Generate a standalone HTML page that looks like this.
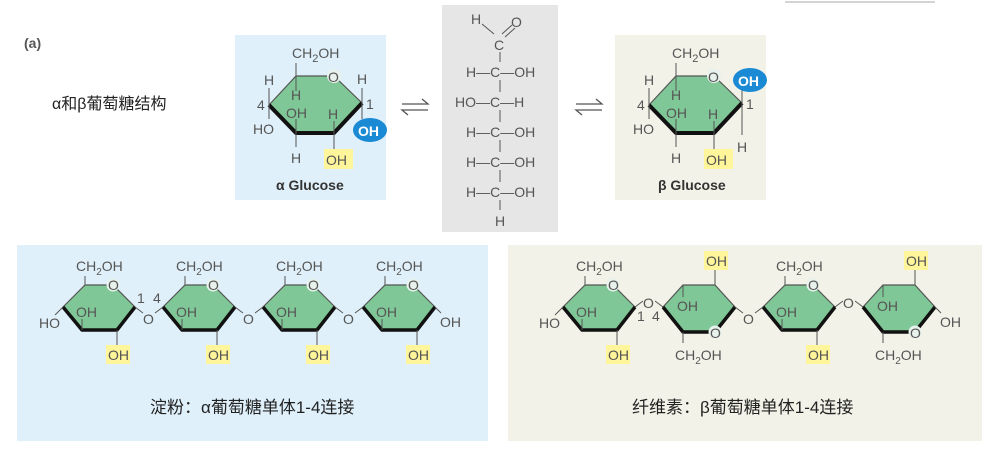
<!DOCTYPE html>
<html><head><meta charset="utf-8"><style>
body{margin:0;background:#fff;}
svg text{font-family:"Liberation Sans","Noto Sans CJK SC",sans-serif;fill:#555;font-size:14px;}
.cn{font-size:17px;fill:#222;}
</style></head><body>
<svg width="1000" height="447" viewBox="0 0 1000 447" xmlns="http://www.w3.org/2000/svg">
<defs>
<g id="sr">
<polygon points="0,0 22,-22 50,-22 72,0 54,23 19,23" fill="#7fc796" stroke="#555" stroke-width="1.2"/>
<polyline points="0,0 19,23 54,23 72,0" fill="none" stroke="#111" stroke-width="3.5" stroke-linejoin="round"/>
<circle cx="50" cy="-22" r="6.5" fill="#e8f2ec"/>
<text x="45" y="-17" font-size="15">O</text>
<line x1="22" y1="-22" x2="22" y2="-31" stroke="#555"/>
<text x="13" y="-36">CH<tspan font-size="10" dy="4">2</tspan><tspan dy="-4">OH</tspan></text>
<line x1="19" y1="23" x2="19" y2="12" stroke="#555"/>
<text x="13" y="10">OH</text>
<line x1="54" y1="23" x2="54" y2="38" stroke="#555"/>
<rect x="43" y="38" width="24" height="19" fill="#fff59a"/>
<text x="45" y="53">OH</text>
</g>
<g id="fr">
<polygon points="0,0 20,-22 52,-22 72,0 52,25 20,25" fill="#7fc796" stroke="#555" stroke-width="1.2"/>
<polyline points="0,0 20,25 52,25 72,0" fill="none" stroke="#111" stroke-width="3.5" stroke-linejoin="round"/>
<circle cx="52" cy="25" r="6.5" fill="#e8f2ec"/>
<text x="47" y="31" font-size="15">O</text>
<line x1="52" y1="-22" x2="52" y2="-37" stroke="#555"/>
<rect x="41" y="-56" width="24" height="19" fill="#fff59a"/>
<text x="43" y="-41">OH</text>
<line x1="20" y1="-22" x2="20" y2="-10" stroke="#555"/>
<text x="14" y="4">OH</text>
<line x1="20" y1="25" x2="20" y2="36" stroke="#555"/>
<text x="12" y="53">CH<tspan font-size="10" dy="4">2</tspan><tspan dy="-4">OH</tspan></text>
</g>
<g id="ho">
<line x1="0" y1="0" x2="-8" y2="8" stroke="#555"/>
<text x="-24" y="21">HO</text>
</g>
<g id="big">
<polygon points="0,0 27,-29 65,-29 93,-2 65,28 27,28" fill="#7fc796" stroke="#555" stroke-width="1.2"/>
<polyline points="0,0 27,28 65,28 93,-2" fill="none" stroke="#111" stroke-width="4" stroke-linejoin="round"/>
<circle cx="65" cy="-29" r="7" fill="#e8f2ec"/>
<text x="59" y="-23" font-size="16">O</text>
<line x1="27" y1="-29" x2="27" y2="-42" stroke="#555"/>
<text x="23" y="-47" font-size="15">CH<tspan font-size="11" dy="4">2</tspan><tspan dy="-4">OH</tspan></text>
<line x1="0" y1="-17" x2="0" y2="14" stroke="#555"/>
<text x="-5" y="-20" font-size="15">H</text>
<text x="-12" y="5" font-size="11">4</text>
<text x="-16" y="29" font-size="15">HO</text>
<line x1="27" y1="-29" x2="27" y2="-14" stroke="#555"/>
<text x="22" y="-5" font-size="15">H</text>
<line x1="27" y1="28" x2="27" y2="14" stroke="#555"/>
<text x="17" y="13" font-size="15">OH</text>
<text x="59" y="14" font-size="15">H</text>
<line x1="65" y1="28" x2="65" y2="16" stroke="#555"/>
<line x1="27" y1="28" x2="27" y2="42" stroke="#555"/>
<text x="22" y="58" font-size="15">H</text>
<line x1="65" y1="28" x2="65" y2="44" stroke="#555"/>
<rect x="55" y="44" width="29" height="20" fill="#fff59a"/>
<text x="57" y="60" font-size="15">OH</text>
<text x="97" y="4" font-size="11">1</text>
</g>
<g id="eq" stroke="#555" stroke-width="1.3" fill="none">
<path d="M0,0 H26 L20,-5"/><path d="M26,6 H0 L6,11"/>
</g>
</defs>
<line x1="785" y1="2" x2="935" y2="2" stroke="#aaa"/>
<text x="24" y="48" font-size="13" font-weight="bold" fill="#333">(a)</text>
<text x="52" y="109" class="cn" style="font-size:16px">α和β葡萄糖结构</text>
<rect x="235" y="35" width="151" height="165" fill="#dff0fa"/>
<rect x="442" y="5" width="116" height="227" fill="#e6e6e6"/>
<rect x="615" y="35" width="151" height="165" fill="#f2f2e8"/>
<g transform="translate(269,105)"><use href="#big"/>
<line x1="93" y1="-2" x2="93" y2="-17" stroke="#555"/><text x="88" y="-21" font-size="15">H</text>
<line x1="93" y1="-2" x2="93" y2="14" stroke="#555"/>
<ellipse cx="101" cy="25" rx="17" ry="12" fill="#1a8ad4"/><text x="89" y="31" font-size="15" style="fill:#fff;font-weight:bold">OH</text></g>
<text x="276" y="190" font-size="14" font-weight="bold" style="fill:#333">α Glucose</text>
<g transform="translate(649,105)"><use href="#big"/>
<line x1="93" y1="-2" x2="93" y2="-15" stroke="#555"/>
<ellipse cx="101" cy="-25" rx="17" ry="12" fill="#1a8ad4"/><text x="89" y="-19" font-size="15" style="fill:#fff;font-weight:bold">OH</text>
<line x1="93" y1="-2" x2="93" y2="30" stroke="#555"/><text x="88" y="47" font-size="15">H</text></g>
<text x="658" y="190" font-size="14" font-weight="bold" style="fill:#333">β Glucose</text>
<use href="#eq" x="402" y="104"/>
<use href="#eq" x="576" y="104"/>
<g font-size="15">
<text x="471" y="24">H</text><line x1="482" y1="24" x2="494" y2="34" stroke="#555"/>
<text x="511" y="27">O</text><line x1="502" y1="34" x2="512" y2="25" stroke="#555"/><line x1="505" y1="37" x2="515" y2="28" stroke="#555"/>
<text x="494" y="50">C</text>
<line x1="500" y1="52" x2="500" y2="62" stroke="#555"/><line x1="500" y1="80" x2="500" y2="92" stroke="#555"/><line x1="500" y1="110" x2="500" y2="122" stroke="#555"/><line x1="500" y1="140" x2="500" y2="152" stroke="#555"/><line x1="500" y1="170" x2="500" y2="182" stroke="#555"/><line x1="500" y1="200" x2="500" y2="210" stroke="#555"/>
<text x="466" y="77">H—C—OH</text>
<text x="455" y="107">HO—C—H</text>
<text x="466" y="137">H—C—OH</text>
<text x="466" y="167">H—C—OH</text>
<text x="466" y="197">H—C—OH</text>
<text x="495" y="226">H</text>
</g>
<rect x="17" y="245" width="471" height="196" fill="#dff0fa"/>
<rect x="508" y="245" width="474" height="196" fill="#f2f2e8"/>
<use href="#sr" x="63" y="307"/><use href="#sr" x="163" y="307"/><use href="#sr" x="263" y="307"/><use href="#sr" x="363" y="307"/>
<use href="#ho" x="63" y="307"/>
<g stroke="#555">
<line x1="135" y1="307" x2="143" y2="313"/><line x1="155" y1="313" x2="163" y2="307"/>
<line x1="235" y1="307" x2="243" y2="313"/><line x1="255" y1="313" x2="263" y2="307"/>
<line x1="335" y1="307" x2="343" y2="313"/><line x1="355" y1="313" x2="363" y2="307"/>
<line x1="435" y1="307" x2="441" y2="313"/>
</g>
<text x="143" y="324" font-size="15">O</text><text x="243" y="324" font-size="15">O</text><text x="343" y="324" font-size="15">O</text><text x="440" y="327">OH</text>
<text x="137" y="303" font-size="11">1</text><text x="153" y="303" font-size="11">4</text>
<use href="#sr" x="563" y="307"/><use href="#fr" x="663" y="307"/><use href="#sr" x="763" y="307"/><use href="#fr" x="863" y="307"/>
<use href="#ho" x="563" y="307"/>
<g stroke="#555">
<line x1="635" y1="307" x2="643" y2="301"/><line x1="655" y1="301" x2="663" y2="307"/>
<line x1="735" y1="307" x2="743" y2="313"/><line x1="755" y1="313" x2="763" y2="307"/>
<line x1="835" y1="307" x2="843" y2="301"/><line x1="855" y1="301" x2="863" y2="307"/>
<line x1="935" y1="307" x2="941" y2="313"/>
</g>
<text x="643" y="308" font-size="15">O</text><text x="743" y="324" font-size="15">O</text><text x="843" y="308" font-size="15">O</text><text x="940" y="327">OH</text>
<text x="637" y="321" font-size="11">1</text><text x="652" y="321" font-size="11">4</text>
<text x="150" y="413" class="cn">淀粉：α葡萄糖单体1-4连接</text>
<text x="632" y="413" class="cn">纤维素：β葡萄糖单体1-4连接</text>
</svg>
</body></html>
